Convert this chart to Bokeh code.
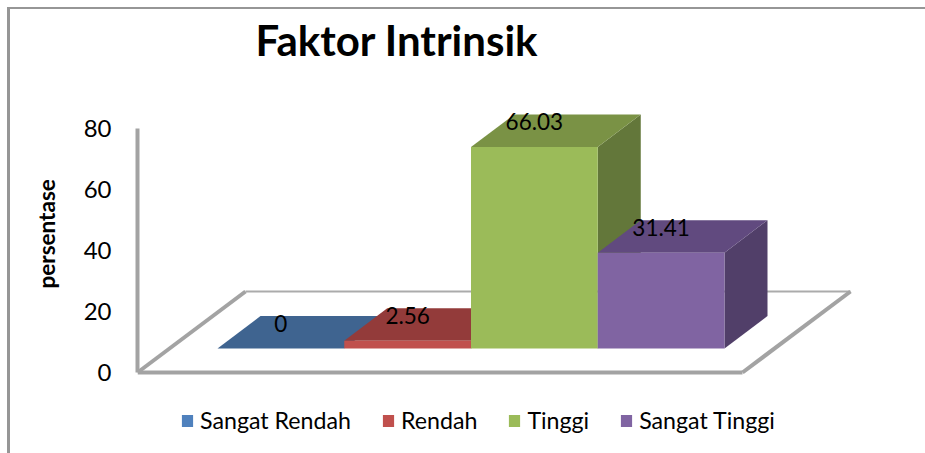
from bokeh.plotting import figure
from bokeh.embed import file_html
from bokeh.resources import INLINE
from bokeh.models import Range1d, Legend, LegendItem, FixedTicker, Title
from bokeh.core.properties import value

# ---- data
categories = ["Sangat Rendah", "Rendah", "Tinggi", "Sangat Tinggi"]
values = [0, 2.56, 66.03, 31.41]
value_labels = ["0", "2.56", "66.03", "31.41"]
y_ticks = [0, 20, 40, 60, 80]

# ---- styles
front_colors = ["#4F81BD", "#C0504D", "#9BBB59", "#8064A2"]
top_colors = ["#3F6490", "#933B3A", "#7A9245", "#614A7F"]
side_colors = ["#3A5A80", "#7F3230", "#63773A", "#513F69"]
AXIS_GRAY = "#A3A3A3"
FRAME_GRAY = "#969696"
FONT = "Lato"

# ---- geometry (axis units are categories horizontally and percent vertically)
PX_X = 126.75
PX_Y = 3.05
W, H = 925, 453
FR_L, FR_R, FR_T, FR_B = 137, 905, 75, 445
Y0_PX = 372
X0_PX = 217
DX = 43 / PX_X       # bar depth
DY = 32.5 / PX_Y
BASE = 24 / PX_Y     # bars stand on the floor, in front of the axis zero
FLOOR_DX = 108 / PX_X
FLOOR_DY = 81 / PX_Y
FLOOR_L = (FR_L - X0_PX) / PX_X
FLOOR_R = (742 - X0_PX) / PX_X

frame_css = (f"linear-gradient({FRAME_GRAY},{FRAME_GRAY}) 7px 7px/3px 100% no-repeat,"
             f"linear-gradient({FRAME_GRAY},{FRAME_GRAY}) 7px 7px/100% 2px no-repeat")

p = figure(width=W, height=H, output_backend="svg", toolbar_location=None,
           x_range=Range1d((FR_L - X0_PX) / PX_X, (FR_R - X0_PX) / PX_X),
           y_range=Range1d((Y0_PX - FR_B) / PX_Y, (Y0_PX - FR_T) / PX_Y),
           x_axis_type=None, margin=(0, 0, 0, 0),
           styles={"background": frame_css},
           min_border_left=FR_L, min_border_right=W - FR_R,
           min_border_top=FR_T, min_border_bottom=H - FR_B)
p.outline_line_color = None
p.grid.visible = False
p.border_fill_color = None
p.background_fill_color = None

# title
p.add_layout(Title(text="Faktor Intrinsik", align="left", offset=118, standoff=22,
                   text_font=FONT, text_font_size="42px", text_font_style="bold",
                   text_color="#000000"), "above")

# y axis
ax = p.yaxis[0]
ax.bounds = (y_ticks[0], y_ticks[-1])
ax.ticker = FixedTicker(ticks=y_ticks)
ax.axis_line_color = AXIS_GRAY
ax.axis_line_width = 4
ax.major_tick_line_color = None
ax.minor_tick_line_color = None
ax.major_label_standoff = 20
ax.major_label_text_font = FONT
ax.major_label_text_font_size = "24px"
ax.major_label_text_color = "#000000"

p.add_layout(Title(text="persentase", align="left", offset=FR_B - 288, standoff=41,
                   text_font=FONT, text_font_size="22.5px", text_font_style="bold",
                   text_color="#000000"), "left")

# floor
p.line([FLOOR_L + FLOOR_DX, FLOOR_R + FLOOR_DX], [FLOOR_DY, FLOOR_DY],
       line_color="#ABABAB", line_width=2)
p.line([FLOOR_L, FLOOR_L + FLOOR_DX], [0, FLOOR_DY], line_color=AXIS_GRAY, line_width=4)
p.line([FLOOR_R, FLOOR_R + FLOOR_DX], [0, FLOOR_DY], line_color=AXIS_GRAY, line_width=4)
p.line([FLOOR_L, FLOOR_R], [0, 0], line_color=AXIS_GRAY, line_width=4)

# bars: side and top faces behind, front face on top
items = []
for i, (name, v) in enumerate(zip(categories, values)):
    x0, x1 = i, i + 1
    y0, y1 = BASE, BASE + v
    p.patch([x1, x1 + DX, x1 + DX, x1], [y0, y0 + DY, y1 + DY, y1],
            fill_color=side_colors[i], line_color=None)
    p.patch([x0, x0 + DX, x1 + DX, x1], [y1, y1 + DY, y1 + DY, y1],
            fill_color=top_colors[i], line_color=None)
    front = p.quad(left=x0, right=x1, bottom=y0, top=y1,
                   fill_color=front_colors[i], line_color=None)
    items.append(LegendItem(label=name, renderers=[front]))

# value labels
p.text(x=[i + 0.5 for i in range(len(values))],
       y=[BASE + v + DY / 2 for v in values],
       text=value_labels, y_offset=-9,
       text_align="center", text_baseline="middle",
       text_font=value(FONT), text_font_size="22.5px", text_color="#000000")

legend = Legend(items=items, orientation="horizontal", location=(43, 11),
                background_fill_alpha=0, border_line_color=None,
                padding=0, margin=0, spacing=30, label_standoff=6,
                glyph_width=14, glyph_height=15,
                label_text_font=FONT, label_text_font_size="23.2px",
                label_text_color="#000000")
p.add_layout(legend)

open("out.html", "w").write(file_html(p, INLINE))
